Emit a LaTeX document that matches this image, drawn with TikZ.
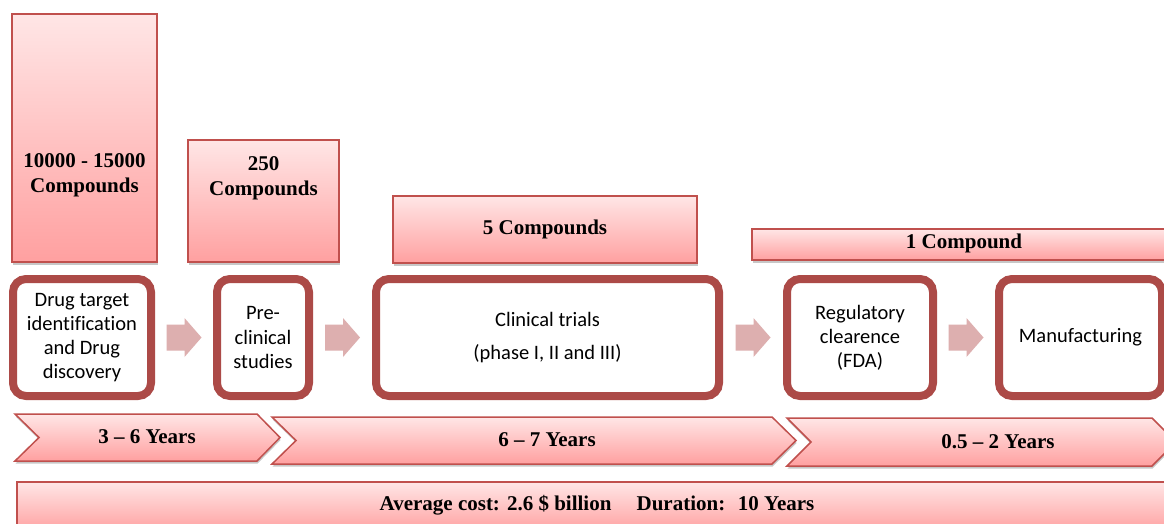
\documentclass[tikz,border=0pt]{standalone}
\usepackage{fontspec}
\setmainfont{Liberation Serif}
\newfontfamily\calfont[Ligatures=NoCommon]{Carlito}
\usetikzlibrary{shadows,calc}
\definecolor{boxred}{RGB}{192,80,77}
\definecolor{darkred}{RGB}{172,74,71}
\definecolor{pinktop}{RGB}{255,230,230}
\definecolor{pinkbot}{RGB}{255,160,160}
\definecolor{arrowpink}{RGB}{221,175,175}
\tikzset{
 shd/.style={drop shadow={shadow xshift=0.6pt, shadow yshift=-2.5pt, opacity=0.22, fill=black}},
 pinkbox/.style={shd, draw=boxred, line width=1.5pt, top color=pinktop, bottom color=pinkbot, inner sep=0pt},
 stagebox/.style={shd, draw=darkred, line width=8pt, rounded corners=13pt, fill=white, inner sep=0pt, minimum height=117pt, align=center, font=\calfont\fontsize{20.5}{24.2}\selectfont},
 boldlbl/.style={font=\bfseries\fontsize{21}{25}\selectfont, align=center, inner sep=0pt},
 blockarrow/.style={fill=arrowpink, draw=none},
}
\newcommand\blockarr[3]{%
  \path[blockarrow] ($(#1.east)!0.5!(#2.west)$) coordinate (#3)
    (#3) +(-17.5,-13) -- +(0.5,-13) -- +(0.5,-19.5) -- +(17.5,0) -- +(0.5,19.5) -- +(0.5,13) -- +(-17.5,13) -- cycle;}
\begin{document}
\begin{tikzpicture}[x=1pt,y=-1pt]
\useasboundingbox (0,0) rectangle (1164,523);
\clip (0,0) rectangle (1164,523);
\fill[white] (0,0) rectangle (1164,523);

% compound count boxes
\node[pinkbox, minimum width=145pt, minimum height=248pt] (t1) at (84.5,138) {};
\node[boldlbl] (t1txt) at (84.5,175.5) {10000 - 15000\\Compounds};
\node[pinkbox, minimum width=151pt, minimum height=122pt] (t2) at (263.5,201) {};
\node[boldlbl] (t2txt) at (263.5,178.5) {250\\Compounds};
\node[pinkbox, minimum width=304pt, minimum height=67pt] (t3) at (545,229.5) {};
\node[boldlbl] (t3txt) at (545,229.5) {5 Compounds};
\node[pinkbox, minimum width=422pt, minimum height=31pt] (t4) at (963,244.5) {};
\node[boldlbl] (t4txt) at (964,243.5) {1 Compound};

% stage boxes
\node[stagebox, minimum width=138pt] (b1) at (82,337.5) {Drug target\\identification\\and Drug\\discovery};
\node[stagebox, minimum width=92pt] (b2) at (263,337.5) {Pre-\\clinical\\studies};
\node[stagebox, minimum width=343pt] (b3) at (547.5,337.5) {Clinical trials\\[8pt](phase I, II and III)};
\node[stagebox, minimum width=146pt] (b4) at (860,337.5) {Regulatory\\clearence\\(FDA)};
\node[stagebox, minimum width=163pt] (b5) at (1080.5,337.5) {Manufacturing};

% block arrows between stages
\blockarr{b1}{b2}{m1}
\blockarr{b2}{b3}{m2}
\blockarr{b3}{b4}{m3}
\blockarr{b4}{b5}{m4}

% duration chevrons
\path[pinkbox] (15,414) -- (257,414) -- (280,437.5) -- (257,461) -- (15,461) -- (39,437.5) -- cycle;
\node[boldlbl] (c1txt) at (147,437) {3 -- 6 Years};
\path[pinkbox] (272,417) -- (772,417) -- (796,440.5) -- (772,464) -- (272,464) -- (296,440.5) -- cycle;
\node[boldlbl] (c2txt) at (547,440) {6 -- 7 Years};
\path[pinkbox] (787,418) -- (1152,418) -- (1176,442) -- (1152,466) -- (787,466) -- (811,442) -- cycle;
\node[boldlbl] (c3txt) at (998,442) {0.5 -- 2 Years};

% total
\node[pinkbox, minimum width=1163pt, minimum height=50pt] (tot) at (598.5,507) {};
\node[boldlbl] (tottxt) at (597,505) {Average cost: 2.6 \$ billion\hspace{1.2em}Duration:\hspace{0.6em}10 Years};
\end{tikzpicture}
\end{document}
